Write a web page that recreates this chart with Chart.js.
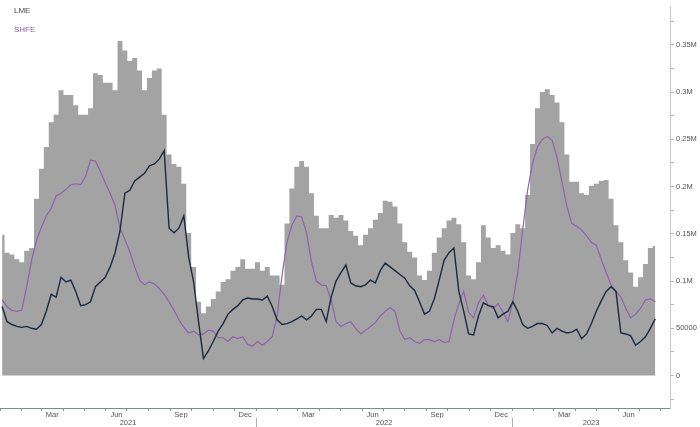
<!DOCTYPE html>
<html>
<head>
<meta charset="utf-8">
<script src="https://cdn.jsdelivr.net/npm/chart.js@4.4.0/dist/chart.umd.min.js"></script>
<style>
  html, body { margin: 0; padding: 0; background: #fff; }
  #wrap { position: relative; width: 700px; height: 427px; }
  .key { position: absolute; left: 14px; font: 8px 'Liberation Sans', Arial, sans-serif; line-height: 8px; }
</style>
</head>
<body>
<div id="wrap">
  <canvas id="chart"></canvas>
  <div class="key" style="top:7px;color:#4d4d4d">LME</div>
  <div class="key" style="top:26px;color:#8a60aa">SHFE</div>
</div>
<script>
// weekly readings, first week starts Mon 4 Jan 2021, values in thousand tonnes
const firstWeek = [2021, 0, 4];

// grey area: combined stocks
const totalStock = [
  149, 130, 128, 123, 120, 132, 135, 187, 219, 242,
  268, 276, 302, 297, 297, 286, 276, 276, 283, 320,
  318, 310, 310, 302, 354, 344, 333, 336, 323, 302,
  315, 323, 325, 276, 234, 224, 221, 203, 151, 115,
  78, 66, 73, 81, 89, 99, 102, 111, 115, 123,
  113, 113, 120, 111, 115, 106, 106, 96, 161, 198,
  221, 227, 221, 193, 169, 156, 156, 170, 167, 170,
  164, 153, 148, 138, 149, 156, 165, 172, 185, 184,
  179, 161, 141, 131, 125, 106, 101, 111, 130, 146,
  156, 164, 167, 160, 141, 106, 102, 120, 159, 146,
  135, 138, 132, 128, 151, 160, 156, 191, 245, 283,
  300, 303, 297, 289, 268, 234, 205, 205, 193, 191,
  201, 203, 206, 207, 187, 159, 141, 122, 109, 94,
  104, 118, 135, 137
];

const lmeStock = [
  73, 57, 54, 52, 51, 52, 50, 49, 54, 68,
  86, 83, 104, 99, 101, 89, 74, 75, 78, 94,
  99, 104, 115, 130, 153, 193, 196, 206, 210, 214,
  222, 224, 229, 238, 156, 151, 156, 169, 125, 99,
  57, 18, 26, 36, 47, 55, 65, 70, 74, 80,
  82, 81, 81, 80, 84, 73, 59, 54, 55, 57,
  60, 63, 59, 63, 70, 70, 57, 83, 100, 109,
  117, 98, 95, 94, 96, 101, 98, 111, 119, 115,
  111, 107, 103, 95, 90, 78, 65, 68, 81, 101,
  122, 130, 135, 89, 68, 44, 43, 63, 77, 74,
  73, 61, 65, 68, 78, 68, 54, 50, 52, 55,
  55, 53, 45, 50, 47, 45, 46, 49, 39, 44,
  55, 68, 79, 89, 94, 89, 45, 44, 42, 32,
  36, 41, 50, 60
];

const shfeStock = [
  80, 73, 69, 68, 69, 94, 122, 143, 157, 169,
  177, 190, 193, 197, 202, 203, 202, 211, 228, 227,
  216, 204, 193, 180, 156, 144, 131, 115, 101, 96,
  99, 97, 92, 86, 78, 69, 59, 51, 45, 47,
  43, 44, 48, 47, 40, 40, 36, 41, 39, 41,
  33, 31, 36, 32, 36, 41, 63, 106, 141, 159,
  169, 168, 151, 120, 100, 96, 95, 80, 57, 52,
  55, 57, 50, 44, 48, 52, 56, 63, 68, 72,
  68, 47, 38, 40, 36, 34, 38, 38, 36, 38,
  35, 36, 59, 76, 89, 67, 61, 77, 85, 74,
  71, 76, 67, 57, 78, 109, 154, 196, 224, 242,
  250, 253, 249, 231, 205, 179, 161, 158, 154, 148,
  141, 138, 123, 109, 96, 89, 83, 71, 61, 65,
  71, 80, 81, 78
];

const monthLabels = { 2: 'Mar', 5: 'Jun', 8: 'Sep', 11: 'Dec' };
const yearLabels = ['2021', '2022', '2023'];
const yLabels = ['0', '50000', '0.1M', '0.15M', '0.2M', '0.25M', '0.3M', '0.35M'];

// x axis is in days since 1 Jan 2021
const DAY0 = Date.UTC(2021, 0, 1);
const dayOf = (y, m, d) => (Date.UTC(y, m, d) - DAY0) / 86400000;
const X_MAX = 955;

const weekX = totalStock.map((_, i) => dayOf(firstWeek[0], firstWeek[1], firstWeek[2] + 7 * i));
const toPoints = arr => arr.map((v, i) => ({ x: weekX[i], y: v * 1000 }));

// month boundaries get tick marks, labels sit in the middle of the month
const monthStarts = new Set();
const monthText = new Map();
yearLabels.forEach(ys => {
  const y = +ys;
  for (let m = 0; m < 12; m++) {
    const s = dayOf(y, m, 1);
    if (s <= X_MAX) monthStarts.add(s);
    if (monthLabels[m]) {
      const mid = (s + dayOf(y, m + 1, 1)) / 2;
      if (mid < X_MAX) monthText.set(mid, monthLabels[m]);
    }
  }
});
const monthTicks = [...monthStarts, ...monthText.keys()].sort((a, b) => a - b);

const yearSeps = new Set();
const yearText = new Map();
yearLabels.forEach(ys => {
  const y = +ys;
  const s = Math.max(0, dayOf(y, 0, 1));
  const e = Math.min(X_MAX, dayOf(y + 1, 0, 1));
  if (s > 0) yearSeps.add(s);
  yearText.set((s + e) / 2, ys);
});
const yearTicks = [...yearSeps, ...yearText.keys()].sort((a, b) => a - b);

const yTicks = [];
for (let v = -25000; v <= 375000; v += 25000) yTicks.push(v);
const yLabel = v => (v >= 0 && v % 50000 === 0) ? (yLabels[v / 50000] || '') : '';

const tickFont = { family: "'Liberation Sans', Arial, sans-serif", size: 7.5 };

new Chart(document.getElementById('chart'), {
  type: 'line',
  data: {
    datasets: [
      {
        label: 'LME',
        data: toPoints(lmeStock),
        borderColor: '#1b2a3d',
        borderWidth: 1.4,
        pointRadius: 0,
        order: 0
      },
      {
        label: 'SHFE',
        data: toPoints(shfeStock),
        borderColor: '#8e63ad',
        borderWidth: 1.2,
        pointRadius: 0,
        order: 1
      },
      {
        label: 'Total',
        data: toPoints(totalStock),
        stepped: 'middle',
        fill: 'origin',
        backgroundColor: '#a3a3a3',
        borderColor: '#a3a3a3',
        borderWidth: 0,
        pointRadius: 0,
        order: 2
      }
    ]
  },
  options: {
    responsive: true,
    maintainAspectRatio: false,
    animation: false,
    layout: { padding: 0 },
    plugins: { legend: { display: false }, tooltip: { enabled: false } },
    scales: {
      x: {
        type: 'linear',
        position: 'bottom',
        min: 0,
        max: X_MAX,
        weight: 0,
        afterBuildTicks: s => { s.ticks = monthTicks.map(v => ({ value: v })); },
        afterFit: s => { s.height = 10; },
        ticks: {
          autoSkip: false,
          maxRotation: 0,
          padding: -1,
          color: '#555',
          font: tickFont,
          callback: v => monthText.get(v) || ''
        },
        grid: {
          drawOnChartArea: false,
          tickLength: 3,
          tickColor: ctx => (ctx.tick && monthStarts.has(ctx.tick.value)) ? '#8a9696' : 'rgba(0,0,0,0)'
        },
        border: { color: '#7f8c8d' }
      },
      xYear: {
        axis: 'x',
        type: 'linear',
        position: 'bottom',
        min: 0,
        max: X_MAX,
        weight: 1,
        afterBuildTicks: s => { s.ticks = yearTicks.map(v => ({ value: v })); },
        afterFit: s => { s.height = 9; },
        ticks: {
          autoSkip: false,
          maxRotation: 0,
          padding: -10,
          color: '#555',
          font: tickFont,
          callback: v => yearText.get(v) || ''
        },
        grid: {
          drawOnChartArea: false,
          tickLength: 10,
          tickColor: ctx => (ctx.tick && yearSeps.has(ctx.tick.value)) ? '#b0b0b0' : 'rgba(0,0,0,0)'
        },
        border: { display: false }
      },
      y: {
        position: 'right',
        min: -34375,
        max: 390625,
        afterBuildTicks: s => { s.ticks = yTicks.map(v => ({ value: v })); },
        afterFit: s => { s.width = 30; },
        ticks: {
          padding: 2,
          color: '#555',
          font: tickFont,
          callback: v => yLabel(v)
        },
        grid: {
          drawOnChartArea: false,
          tickLength: 4,
          tickColor: '#b5b5b5'
        },
        border: { color: '#c8c8c8' }
      }
    }
  }
});
</script>
</body>
</html>
